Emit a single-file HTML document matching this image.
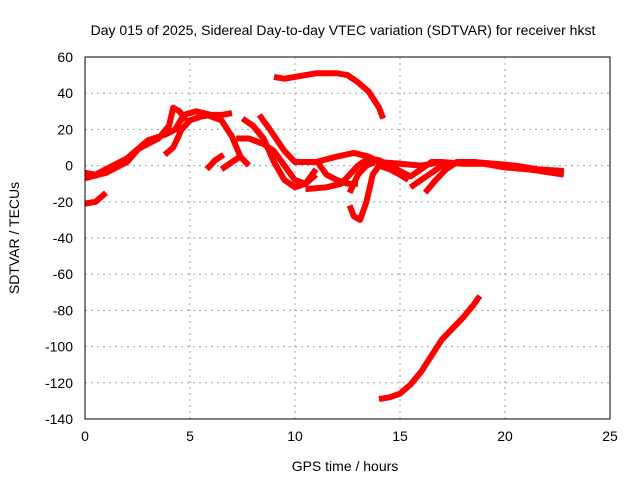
<!DOCTYPE html>
<html><head><meta charset="utf-8"><style>
body{margin:0;background:#fff}
svg{display:block;font-family:"Liberation Sans",sans-serif;font-size:14px}
</style></head><body>
<svg id="c" width="640" height="480">
<text x="343" y="35" text-anchor="middle">Day 015 of 2025, Sidereal Day-to-day VTEC variation (SDTVAR) for receiver hkst</text>
<text x="345" y="471" text-anchor="middle">GPS time / hours</text>
<text transform="translate(19,238) rotate(-90)" text-anchor="middle">SDTVAR / TECUs</text>
<g id="grid"></g><g id="ticks"></g><g id="series"></g>
<rect x="85" y="57" width="525" height="362" fill="none" stroke="#000"/>
</svg>
<script>
const xTicks=[0,5,10,15,20,25];
const yTicks=[60,40,20,0,-20,-40,-60,-80,-100,-120,-140];
const track1=[[0,-4],[0.5,-5],[1,-2],[1.5,1],[2,4],[2.5,9],[3,12],[3.5,15],[4,22],[4.2,32],[4.5,30],[4.8,25]];
const track2=[[0,-7],[1,-4],[2,2],[2.6,10],[3,14],[3.8,17],[4.3,20],[4.7,28],[5.3,30],[6,28],[6.6,27]];
const track3=[[0,-21],[0.5,-20],[1,-15]];
const track4=[[3.8,6],[4.2,10],[4.6,20],[5,25],[5.5,27],[6,28],[6.5,28],[7,29]];
const track5=[[5.8,28],[6.5,25],[7,16],[7.4,5],[7.8,0]];
const track6=[[5.8,-2],[6.2,3],[6.6,6]];
const track7=[[6.5,-2],[7,2],[7.4,5]];
const track8=[[7.2,15],[7.8,15],[8.5,12],[9,8],[9.5,0],[10,-8],[10.5,-10],[11,-5]];
const track9=[[7.5,26],[8,22],[8.5,15],[9,2],[9.5,-8],[10,-12],[10.5,-10],[11,-2]];
const track10=[[8.3,28],[8.8,20],[9.5,8],[10,2],[11,2],[12,5],[12.8,7],[13.5,5],[14,2],[15,1],[16,0],[17,2],[18,1],[19,1],[20,-1],[21,-2],[22,-3],[22.8,-4]];
const track11=[[10.5,-13],[11.5,-12],[12.2,-10],[12.6,-5],[13,0],[13.5,4],[14,3],[14.5,0],[15,-3],[15.5,-6],[16,-2],[16.5,2],[17,2]];
const track12=[[11,3],[11.5,-5],[12,-8],[12.5,-10],[13,-10]];
const track13=[[12.6,-22],[12.8,-28],[13.1,-30],[13.4,-20],[13.7,-5],[14,0],[14.5,-2],[15,-5],[15.4,-8]];
const track14=[[12.6,-15],[13,-5],[13.4,0],[13.8,2]];
const track15=[[15.5,-12],[16,-8],[16.5,-4],[17,0],[17.5,1],[18.5,2],[19.5,1],[20.5,0],[21.5,-2],[22.8,-3]];
const track16=[[16.2,-15],[16.7,-8],[17.2,-2],[17.7,2],[18.5,2],[20,0],[22.8,-5]];
const track17=[[9,49],[9.5,48],[10,49],[10.5,50],[11,51],[12,51],[12.5,50],[13,46],[13.5,41],[14,32],[14.2,26]];
const track18=[[14,-129],[14.5,-128],[15,-126],[15.5,-121],[16,-114],[16.5,-105],[17,-96],[17.5,-90],[18,-84],[18.5,-77],[18.8,-72]];
const tracks=[track1,track2,track3,track4,track5,track6,track7,track8,track9,track10,track11,track12,track13,track14,track15,track16,track17,track18];
const NS="http://www.w3.org/2000/svg";
const X0=85,X1=610,Y0=419,Y1=57;
function xs(v){return X0+(v-0)/(25-0)*(X1-X0);}
function ys(v){return Y0-(v-(-140))/(60-(-140))*(Y0-Y1);}
function mk(t,a,p){const e=document.createElementNS(NS,t);for(const k in a)e.setAttribute(k,a[k]);p.appendChild(e);return e;}
const grid=document.getElementById('grid'),ticks=document.getElementById('ticks'),ser=document.getElementById('series');
xTicks.forEach(t=>{const x=xs(t);
 if(t>0&&t<25){const g=mk('line',{x1:x,x2:x,y1:Y1,y2:Y0,stroke:'#a0a0a0','stroke-dasharray':'2,4'},grid);
 
 }
 const l=mk('text',{x:x,y:Y0+22,'text-anchor':'middle'},ticks);l.textContent=t;
 
 });
yTicks.forEach(t=>{const y=ys(t);
 if(t>-140&&t<60){const g=mk('line',{x1:X0,x2:X1,y1:y,y2:y,stroke:'#a0a0a0','stroke-dasharray':'2,4'},grid);
 
 }
 const l=mk('text',{x:X0-12,y:y+5,'text-anchor':'end'},ticks);l.textContent=t;
 
 });
tracks.forEach((tr,i)=>{
 const p=mk('polyline',{points:tr.map(d=>xs(d[0])+','+ys(d[1])).join(' '),fill:'none',stroke:'#ff0000','stroke-width':6,'stroke-linejoin':'round'},ser);
 
 
});
</script>
</body></html>
